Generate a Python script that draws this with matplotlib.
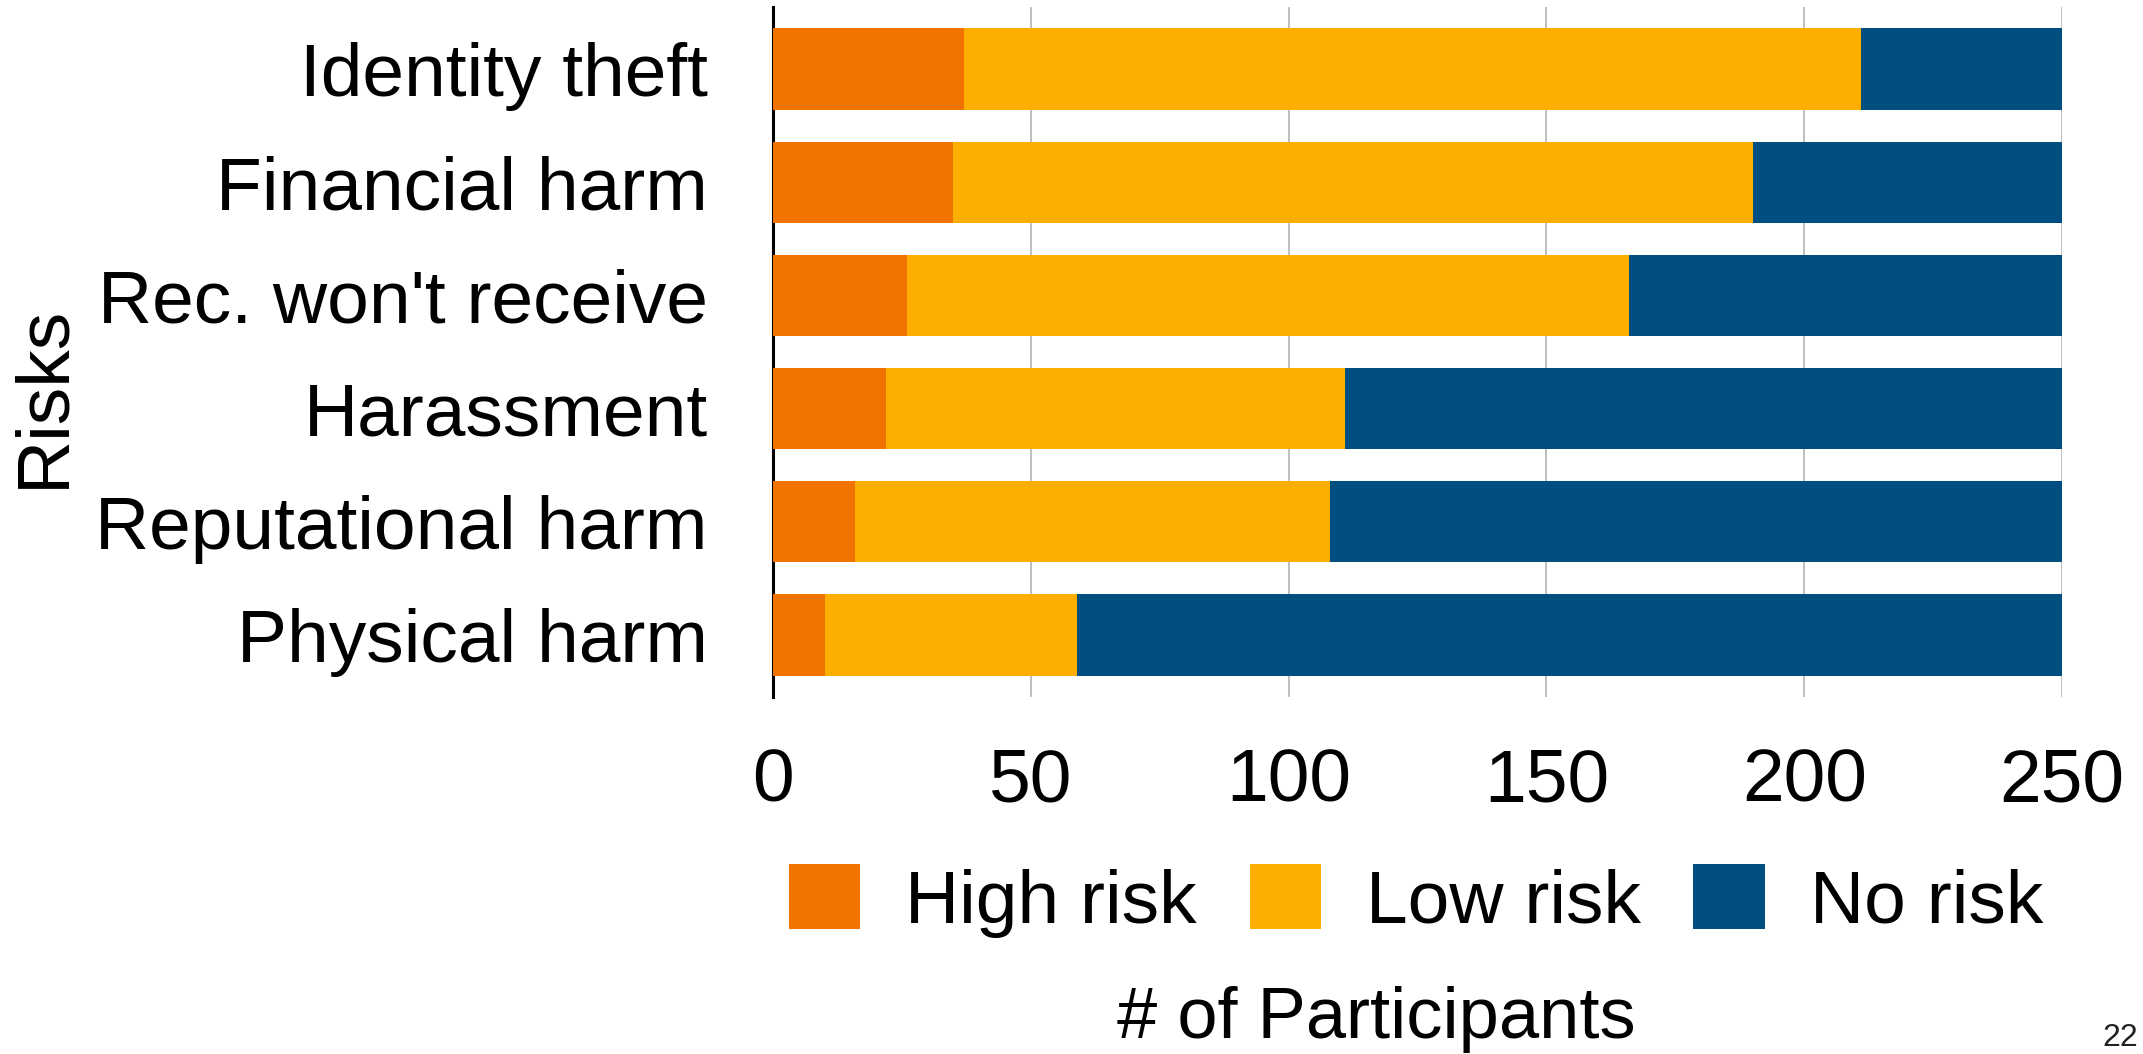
import numpy as np
import matplotlib.pyplot as plt
from matplotlib.patches import Patch

plt.rcParams['font.family'] = ['Liberation Sans', 'DejaVu Sans']

risks = ['Identity theft', 'Financial harm', "Rec. won't receive",
         'Harassment', 'Reputational harm', 'Physical harm']
high_risk = [37, 35, 26, 22, 16, 10]
low_risk = [174, 155, 140, 89, 92, 49]
no_risk = [39, 60, 84, 139, 142, 191]
series_names = ['High risk', 'Low risk', 'No risk']
colors = ['#F07300', '#FDAE00', '#004F80']
x_ticks = [0, 50, 100, 150, 200, 250]

W, H = 2143, 1054
fig = plt.figure(figsize=(W / 100, H / 100), dpi=100)
ax = fig.add_axes([773 / W, 357 / H, (2062 - 773) / W, (1047 - 357) / H])

y = np.arange(len(risks))
left = np.zeros(len(risks))
for vals, c in zip([high_risk, low_risk, no_risk], colors):
    ax.barh(y, vals, left=left, height=0.72, color=c, zorder=3)
    left = left + np.array(vals)

ax.set_ylim(len(risks) - 0.45, -0.55)
ax.set_xlim(0, 250)
ax.set_yticks(y)
ax.set_yticklabels(risks, fontsize=54)
ax.set_xticks(x_ticks)
ax.set_xticklabels([str(t) for t in x_ticks], fontsize=54)
ax.tick_params(axis='y', length=0, pad=47)
ax.tick_params(axis='x', length=0, pad=36)
ax.grid(axis='x', color='#BFBFBF', linewidth=1.4, zorder=0)
ax.set_axisbelow(True)
for s in ['top', 'right', 'bottom']:
    ax.spines[s].set_visible(False)
ax.spines['left'].set_linewidth(2.2)
ax.spines['left'].set_color('black')

handles = [Patch(facecolor=c, edgecolor='none', label=n) for c, n in zip(colors, series_names)]
fig.legend(handles=handles, loc='center', bbox_to_anchor=(1416 / W, 1 - 901 / H),
           ncol=3, frameon=False, fontsize=54, handlelength=0.95, handleheight=0.95,
           handletextpad=0.6, columnspacing=0.7, borderpad=0, borderaxespad=0)

fig.text(1376 / W, 16 / H, '# of Participants', fontsize=52, ha='center', va='baseline')
fig.text(44 / W, 1 - 396 / H, 'Risks', fontsize=54, rotation=90, ha='center', va='center')
fig.text(2138 / W, 8 / H, '22', fontsize=23, color='#222222', ha='right', va='baseline')

fig.savefig('out.png', dpi=100)
